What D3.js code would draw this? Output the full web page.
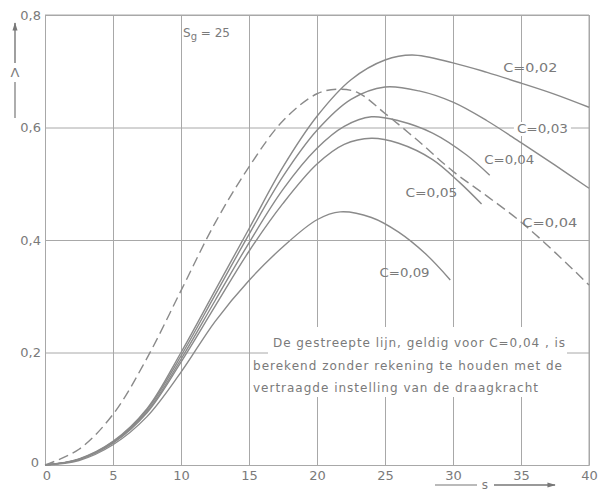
<!DOCTYPE html>
<html>
<head>
<meta charset="utf-8">
<script src="https://cdn.jsdelivr.net/npm/d3@7"></script>
<style>
  html, body { margin: 0; padding: 0; background: #fff; }
  svg { display: block; }
  text { font-family: "DejaVu Sans", "Liberation Sans", sans-serif; fill: #7a7a7a; }
</style>
</head>
<body>
<svg id="chart" width="605" height="492"></svg>
<script>
// Axis ticks
const xTicks = [0, 5, 10, 15, 20, 25, 30, 35, 40];
const xTickLabels = ["0", "5", "10", "15", "20", "25", "30", "35", "40"];
const yTicks = [0, 0.2, 0.4, 0.6, 0.8];
const yTickLabels = ["0", "0,2", "0,4", "0,6", "0,8"];

// Λ(s) for several values of C (solid curves)
const sC002 = [0, 2.5, 5, 7.5, 10, 12.5, 15, 17.5, 20, 22.5, 25, 27, 30, 32.5, 35, 37.5, 40];
const lC002 = [0, 0.011, 0.042, 0.1, 0.2, 0.31, 0.42, 0.53, 0.62, 0.685, 0.72, 0.729, 0.715, 0.698, 0.679, 0.659, 0.636];

const sC003 = [0, 2.5, 5, 7.5, 10, 12.5, 15, 17.5, 20, 22.5, 25, 27.5, 30, 32.5, 35, 37.5, 40];
const lC003 = [0, 0.01, 0.041, 0.098, 0.194, 0.302, 0.41, 0.513, 0.595, 0.65, 0.672, 0.665, 0.645, 0.612, 0.573, 0.533, 0.492];

const sC004 = [0, 2.5, 5, 7.5, 10, 12.5, 15, 17.5, 20, 22, 24, 26, 28.5, 31, 32.7];
const lC004 = [0, 0.01, 0.04, 0.095, 0.188, 0.292, 0.395, 0.49, 0.563, 0.602, 0.619, 0.612, 0.59, 0.551, 0.515];

const sC005 = [0, 2.5, 5, 7.5, 10, 12.5, 15, 17.5, 20, 22, 24, 26, 28.5, 30.5, 32.1];
const lC005 = [0, 0.01, 0.039, 0.093, 0.183, 0.282, 0.38, 0.465, 0.535, 0.57, 0.581, 0.572, 0.543, 0.502, 0.464];

const sC009 = [0, 2.5, 5, 7.5, 10, 12.5, 15, 17.5, 20, 21.7, 24, 26, 28, 29.8];
const lC009 = [0, 0.008, 0.036, 0.086, 0.165, 0.255, 0.328, 0.388, 0.436, 0.45, 0.44, 0.414, 0.375, 0.329];

// C = 0,04 without the delayed build-up of lift (dashed curve)
const sDash = [0, 2.5, 5, 7.5, 10, 12.5, 15, 17.5, 20, 21.5, 23, 25, 27.5, 30, 32.5, 35, 37.5, 40];
const lDash = [0, 0.028, 0.09, 0.19, 0.31, 0.43, 0.53, 0.612, 0.66, 0.668, 0.662, 0.625, 0.575, 0.522, 0.478, 0.432, 0.378, 0.32];

const curveLabels = ["C=0,02", "C=0,03", "C=0,04", "C=0,05", "C=0,04", "C=0,09"];
const noteLines = [
  "De gestreepte lijn, geldig voor C=0,04 , is",
  "berekend zonder rekening te houden met de",
  "vertraagde instelling van de draagkracht"
];

const svg = d3.select("#chart");
const x = d3.scaleLinear().domain([0, 40]).range([45, 589]);
const y = d3.scaleLinear().domain([0, 0.8]).range([465, 15]);

const gridColor = "#a8a8a8";
const lineColor = "#8a8a8a";

// grid
const gx = svg.append("g")
  .attr("transform", `translate(0,${y(0)})`)
  .call(d3.axisBottom(x).tickValues(xTicks).tickSize(-(y(0) - y(0.8))).tickFormat((d, i) => xTickLabels[i]));
gx.select(".domain").attr("stroke", gridColor);
gx.selectAll(".tick line").attr("stroke", gridColor).attr("stroke-width", 1);
gx.selectAll(".tick text").attr("font-size", 13).attr("dy", "0.95em").attr("fill", "#7a7a7a")
  .attr("font-family", "DejaVu Sans");

const gy = svg.append("g")
  .attr("transform", `translate(${x(0)},0)`)
  .call(d3.axisLeft(y).tickValues(yTicks).tickSize(-(x(40) - x(0))).tickFormat((d, i) => yTickLabels[i]));
gy.select(".domain").attr("stroke", gridColor);
gy.selectAll(".tick line").attr("stroke", gridColor).attr("stroke-width", 1);
gy.selectAll(".tick text").attr("font-size", 13).attr("x", -4).attr("fill", "#7a7a7a")
  .attr("font-family", "DejaVu Sans");
gy.selectAll(".tick text").filter(d => d === 0).attr("x", -6).attr("dy", "0.1em");
gx.selectAll(".tick text").filter(d => d === 0).attr("dx", "0.1em");

// right and top borders
svg.append("line").attr("x1", x(40)).attr("x2", x(40)).attr("y1", y(0)).attr("y2", y(0.8))
  .attr("stroke", gridColor);
svg.append("line").attr("x1", x(0)).attr("x2", x(40)).attr("y1", y(0.8)).attr("y2", y(0.8))
  .attr("stroke", gridColor);

// white backing of the note
const noteBg = svg.append("g").attr("fill", "#fff");
noteBg.append("rect").attr("x", 268).attr("y", 327).attr("width", 299).attr("height", 70);
noteBg.append("rect").attr("x", 251).attr("y", 356).attr("width", 20).attr("height", 41);

// curves
const line = d3.line().x(d => x(d[0])).y(d => y(d[1])).curve(d3.curveCatmullRom.alpha(0.5));
const series = [
  [sC002, lC002], [sC003, lC003], [sC004, lC004], [sC005, lC005], [sC009, lC009]
];
series.forEach(([s, l]) => {
  svg.append("path")
    .datum(d3.zip(s, l))
    .attr("d", line)
    .attr("fill", "none")
    .attr("stroke", lineColor)
    .attr("stroke-width", 1.4);
});
svg.append("path")
  .datum(d3.zip(sDash, lDash))
  .attr("d", line)
  .attr("fill", "none")
  .attr("stroke", lineColor)
  .attr("stroke-width", 1.4)
  .attr("stroke-dasharray", "10,5");

// curve labels (with white backing where they sit on a grid line)
const labelPos = [
  [x(33.7), 72, 54], [x(34.7), 133, 51], [x(32.3), 164, 50],
  [x(26.5), 197, 52], [x(35.1), 227, 55], [x(24.6), 277, 50]
];
labelPos.forEach(([lx, ly, w], i) => {
  if (i === 1) {
    svg.append("rect").attr("x", lx - 3).attr("y", ly - 11).attr("width", w + 6).attr("height", 14).attr("fill", "#fff");
  }
  svg.append("text").attr("x", lx).attr("y", ly).attr("font-size", 12)
    .attr("textLength", w).attr("lengthAdjust", "spacingAndGlyphs")
    .attr("fill", i === 4 ? "#666" : "#7a7a7a")
    .text(curveLabels[i]);
});

// note text
const noteX = [273, 253, 253];
const noteW = [292, 309, 285];
const noteY = [347, 370, 392];
noteLines.forEach((t, i) => {
  svg.append("text").attr("x", noteX[i]).attr("y", noteY[i]).attr("font-size", 12)
    .attr("textLength", noteW[i]).attr("lengthAdjust", "spacing")
    .attr("fill", "#6e6e6e").text(t);
});

// S_g = 25
const sg = svg.append("text").attr("x", 183).attr("y", 37).attr("font-size", 12);
sg.append("tspan").text("S");
sg.append("tspan").attr("font-size", 10).attr("dy", 3).text("g");
sg.append("tspan").attr("dy", -3).text(" = 25");

// Λ axis label with arrow
svg.append("defs").append("marker")
  .attr("id", "arr").attr("viewBox", "0 0 10 10").attr("refX", 9).attr("refY", 5)
  .attr("markerWidth", 6).attr("markerHeight", 6).attr("orient", "auto")
  .append("path").attr("d", "M0,2 L10,5 L0,8 Z").attr("fill", "#777");
svg.append("line").attr("x1", 15).attr("x2", 15).attr("y1", 118).attr("y2", 82)
  .attr("stroke", "#777").attr("stroke-width", 1.2);
svg.append("line").attr("x1", 15).attr("x2", 15).attr("y1", 63).attr("y2", 23)
  .attr("stroke", "#777").attr("stroke-width", 1.4).attr("marker-end", "url(#arr)");
svg.append("text").attr("x", 15).attr("y", 77).attr("font-size", 13).attr("text-anchor", "middle").text("Λ");

// s axis label with arrow
svg.append("line").attr("x1", 435).attr("x2", 477).attr("y1", 485).attr("y2", 485)
  .attr("stroke", "#777").attr("stroke-width", 1.2);
svg.append("text").attr("x", 485).attr("y", 489).attr("font-size", 12).attr("text-anchor", "middle").text("s");
svg.append("line").attr("x1", 494).attr("x2", 555).attr("y1", 485).attr("y2", 485)
  .attr("stroke", "#777").attr("stroke-width", 1.4).attr("marker-end", "url(#arr)");
</script>
</body>
</html>
